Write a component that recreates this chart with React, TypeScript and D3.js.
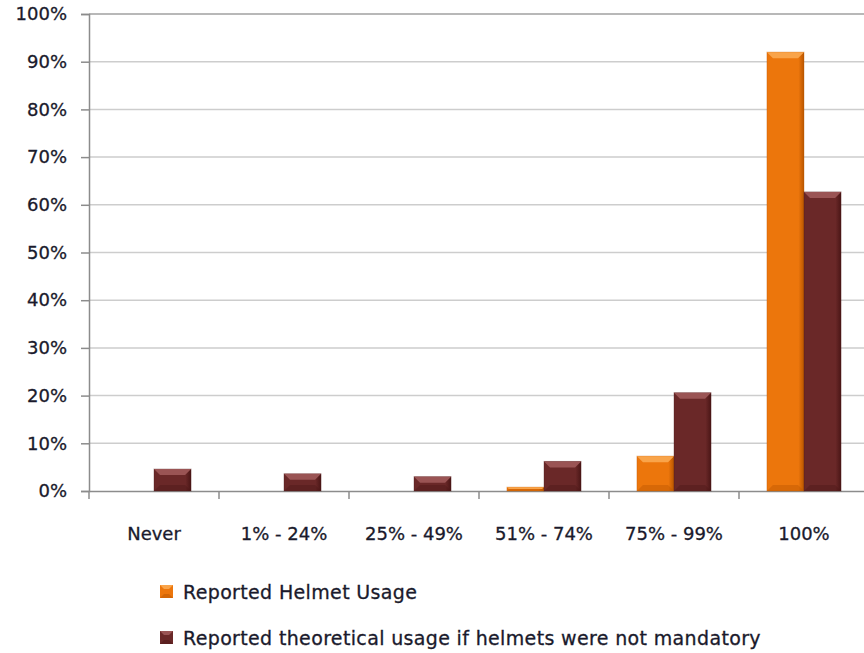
import { useEffect, useRef } from "react"
import * as d3 from "d3"

// values (percent of respondents)
const categories = ["Never", "1% - 24%", "25% - 49%", "51% - 74%", "75% - 99%", "100%"]
const seriesNames = [
  "Reported Helmet Usage",
  "Reported theoretical usage if helmets were not mandatory",
]
const reportedUsage = [0, 0, 0, 0.8, 7.3, 92.0]
const theoreticalUsage = [4.6, 3.6, 3.0, 6.2, 20.6, 62.7]
const yTicks = [0, 10, 20, 30, 40, 50, 60, 70, 80, 90, 100]

const seriesColors = ["#ec760c", "#6a2828"]
const lightColors = ["#f9a44a", "#9a5454"]
const darkColors = ["#b95600", "#4a1616"]

export default function App() {
  const svgRef = useRef<SVGSVGElement>(null)

  useEffect(() => {
    if (!svgRef.current) return
    const svg = d3.select(svgRef.current)
    svg.selectAll("*").remove()

    const width = 864
    const height = 653
    const margin = { top: 14, right: -5, bottom: 162, left: 89 }
    const axisFont = "DejaVu Sans, Verdana, sans-serif"
    const legendFont = "DejaVu Sans, Verdana, sans-serif"
    const textColor = "#1a1a2c"

    const x = d3
      .scaleBand()
      .domain(categories)
      .range([margin.left, width - margin.right])
      .paddingInner(0.43)
      .paddingOuter(0.215)

    const xInner = d3.scaleBand().domain(["0", "1"]).range([0, x.bandwidth()])

    const y = d3
      .scaleLinear()
      .domain([0, 100])
      .range([height - margin.bottom, margin.top])

    // gradients for the bevelled bars
    const defs = svg.append("defs")
    seriesColors.forEach((c, i) => {
      const g = defs
        .append("linearGradient")
        .attr("id", `bar-grad-${i}`)
        .attr("x1", "0%")
        .attr("x2", "100%")
        .attr("y1", "0%")
        .attr("y2", "0%")
      g.append("stop").attr("offset", "0%").attr("stop-color", c)
      g.append("stop").attr("offset", "85%").attr("stop-color", c)
      g.append("stop").attr("offset", "100%").attr("stop-color", darkColors[i])
    })

    // gridlines
    svg
      .append("g")
      .selectAll("line")
      .data(yTicks.filter((d) => d > 0))
      .enter()
      .append("line")
      .attr("x1", margin.left)
      .attr("x2", width)
      .attr("y1", (d) => y(d))
      .attr("y2", (d) => y(d))
      .attr("stroke", (d) => (d === 100 ? "#a0a0a0" : "#cdcdcd"))
      .attr("stroke-width", 1.5)

    // y axis
    const yAxis = svg
      .append("g")
      .attr("transform", `translate(${margin.left},0)`)
      .call(
        d3
          .axisLeft(y)
          .tickValues(yTicks)
          .tickSize(8)
          .tickPadding(14)
          .tickFormat((d) => `${d}%`),
      )
    yAxis.select(".domain").attr("stroke", "#8c8c8c").attr("stroke-width", 1.5)
    yAxis.selectAll(".tick line").attr("stroke", "#8c8c8c").attr("stroke-width", 1.5)
    yAxis
      .selectAll("text")
      .style("font-family", axisFont)
      .style("font-size", "18px")
      .attr("fill", textColor)
      .attr("stroke", textColor)
      .attr("stroke-width", 0.3)

    // x axis
    const xAxis = svg
      .append("g")
      .attr("transform", `translate(0,${y(0)})`)
      .call(d3.axisBottom(x).tickSize(0).tickPadding(36))
    xAxis.select(".domain").attr("stroke", "#8c8c8c").attr("stroke-width", 1.5)
    xAxis
      .selectAll("text")
      .style("font-family", axisFont)
      .style("font-size", "18px")
      .attr("fill", textColor)
      .attr("stroke", textColor)
      .attr("stroke-width", 0.3)

    // category separators
    const step = x.step()
    svg
      .append("g")
      .selectAll("line")
      .data(categories)
      .enter()
      .append("line")
      .attr("x1", (d) => (x(d) as number) - (step - x.bandwidth()) / 2)
      .attr("x2", (d) => (x(d) as number) - (step - x.bandwidth()) / 2)
      .attr("y1", y(0))
      .attr("y2", y(0) + 8)
      .attr("stroke", "#8c8c8c")
      .attr("stroke-width", 1.5)

    // bars
    const rows = categories.map((c, i) => ({
      category: c,
      values: [reportedUsage[i], theoreticalUsage[i]],
    }))

    const groups = svg
      .append("g")
      .selectAll("g")
      .data(rows)
      .enter()
      .append("g")
      .attr("transform", (d) => `translate(${x(d.category)},0)`)

    groups.each(function (row) {
      const g = d3.select(this)
      row.values.forEach((v, i) => {
        if (v <= 0) return
        const bx = xInner(String(i)) as number
        const bw = xInner.bandwidth()
        const top = y(v)
        const h = y(0) - top
        const bevel = Math.min(6, h / 2)
        g.append("rect")
          .attr("x", bx)
          .attr("y", top)
          .attr("width", bw)
          .attr("height", h)
          .attr("fill", `url(#bar-grad-${i})`)
          .attr("stroke", darkColors[i])
          .attr("stroke-opacity", 0.35)
          .attr("stroke-width", 1)
        // top bevel highlight
        g.append("path")
          .attr(
            "d",
            `M${bx},${top}L${bx + bw},${top}L${bx + bw - bevel},${top + bevel}L${bx + bevel},${top + bevel}Z`,
          )
          .attr("fill", lightColors[i])
        // bottom bevel shade
        g.append("path")
          .attr(
            "d",
            `M${bx},${y(0)}L${bx + bw},${y(0)}L${bx + bw - bevel},${y(0) - bevel}L${bx + bevel},${y(0) - bevel}Z`,
          )
          .attr("fill", darkColors[i])
          .attr("opacity", 0.4)
      })
    })

    // legend
    const legend = svg
      .append("g")
      .selectAll("g")
      .data(seriesNames)
      .enter()
      .append("g")
      .attr("transform", (_, i) => `translate(160,${585 + i * 46})`)

    legend
      .append("rect")
      .attr("width", 13)
      .attr("height", 13)
      .attr("fill", (_, i) => seriesColors[i])
    legend
      .append("path")
      .attr("d", "M0,0L13,0L9,4L4,4Z")
      .attr("fill", (_, i) => lightColors[i])
    legend
      .append("path")
      .attr("d", "M0,13L13,13L9,9L4,9Z")
      .attr("fill", (_, i) => darkColors[i])
      .attr("opacity", 0.5)

    legend
      .append("text")
      .attr("x", 23)
      .attr("y", 14)
      .style("font-family", legendFont)
      .style("font-size", "19px")
      .style("letter-spacing", "0.35px")
      .attr("fill", textColor)
      .attr("stroke", textColor)
      .attr("stroke-width", 0.3)
      .text((d) => d)
  }, [])

  return (
    <svg
      ref={svgRef}
      width={864}
      height={653}
      style={{ position: "absolute", left: 0, top: 0, background: "#fff" }}
    />
  )
}
